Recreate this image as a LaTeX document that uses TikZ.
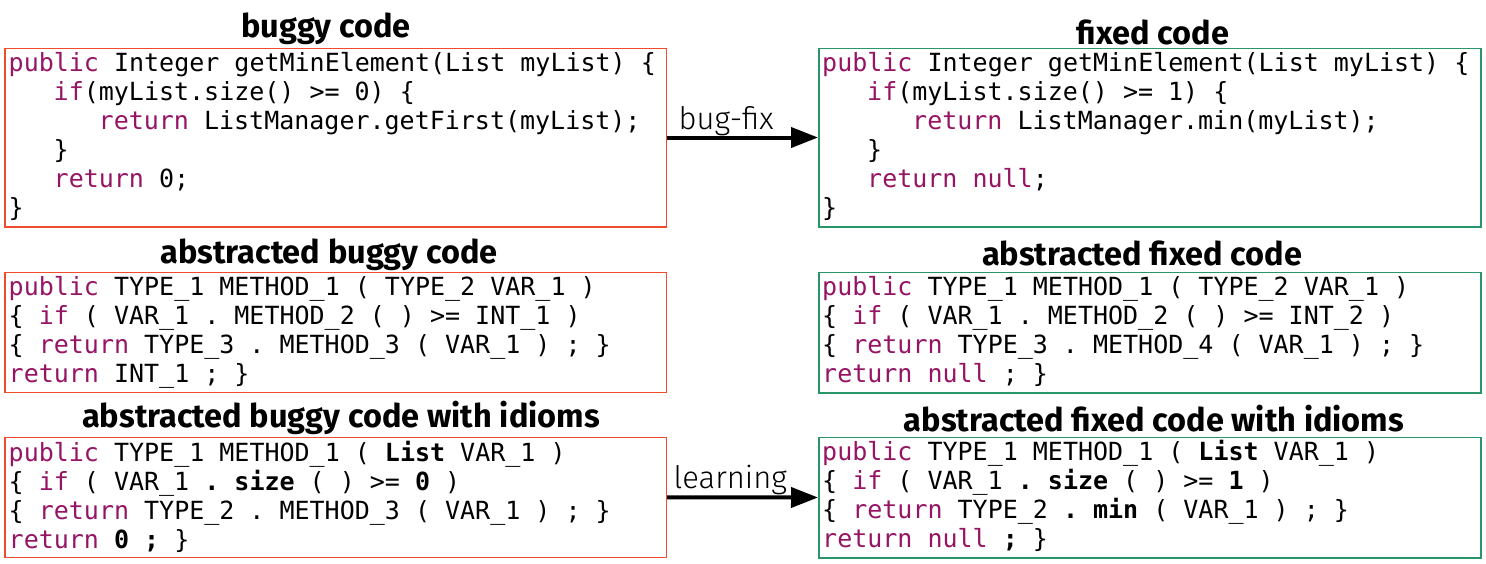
\documentclass[tikz,border=0pt]{standalone}
\usepackage{fontspec}
\setmainfont{Fira Sans}
\setmonofont{DejaVu Sans Mono}
\newfontfamily\titlefont{Fira Sans}[UprightFont={* Bold}]
\newfontfamily\lightfont{Fira Sans Light}
\usetikzlibrary{arrows.meta,calc}
\definecolor{kwc}{RGB}{150,20,100}
\definecolor{bugred}{RGB}{240,75,45}
\definecolor{fixgreen}{RGB}{40,150,105}
\newcommand\cs{\rule[-8pt]{0pt}{29pt}}
\newcommand\cset{\frenchspacing\spaceskip=15.05pt\relax\xspaceskip=15.05pt\relax}
\newcommand\kw[1]{\textcolor{kwc}{#1}}
\newcommand\bd[1]{\textbf{#1}}
\newcommand\ind[1]{\hspace*{#1pt}}
\begin{document}
\begin{tikzpicture}[x=1pt,y=-1pt,
  codebox/.style={draw,line width=1.5pt,inner sep=0pt,anchor=north west},
  bugbox/.style={codebox,draw=bugred},
  fixbox/.style={codebox,draw=fixgreen},
  codetext/.style={anchor=north west,inner sep=0pt,text width=655pt,align=left,
    font={\fontsize{25}{29}\ttfamily}},
  ttl/.style={anchor=base,inner sep=0pt,font=\titlefont\fontsize{32.5}{36}\selectfont},
  lbl/.style={anchor=base west,inner sep=0pt,font=\lightfont\fontsize{31}{36}\selectfont},
  flow/.style={line width=4pt,-{Triangle[length=27pt,width=20pt]}}]
\useasboundingbox (0,0) rectangle (1486,563);
% boxes
\node[bugbox,minimum width=661.5pt,minimum height=178.5pt] (b1) at (4,47.5) {};
\node[fixbox,minimum width=662pt,minimum height=178.5pt] (f1) at (818,47.5) {};
\node[bugbox,minimum width=661.5pt,minimum height=120pt] (b2) at (4,271.5) {};
\node[fixbox,minimum width=662pt,minimum height=120.5pt] (f2) at (818,271.5) {};
\node[bugbox,minimum width=661.5pt,minimum height=120pt] (b3) at (4,436.5) {};
\node[fixbox,minimum width=662pt,minimum height=120.5pt] (f3) at (818,436.5) {};
% titles
\node[ttl] (tb1) at (326,37) {buggy code};
\node[ttl] (tf1) at (1153,44) {fixed code};
\node[ttl] (tb2) at (329,263.5) {abstracted buggy code};
\node[ttl] (tf2) at (1142,265) {abstracted fixed code};
\node[ttl] (tb3) at (341,427.5) {abstracted buggy code with idioms};
\node[ttl] (tf3) at (1154,431.5) {abstracted fixed code with idioms};
% code
\node[codetext] (cb1) at ($(b1.north west)+(4.5,2.5)$) {\cset
\cs\kw{public} Integer getMinElement(List myList) \{\\
\cs\ind{45}\kw{if}(myList.size() >= 0) \{\\
\cs\ind{90}\kw{return} ListManager.getFirst(myList);\\
\cs\ind{45}\}\\
\cs\ind{45}\kw{return} 0;\\
\cs\}};
\node[codetext] (cf1) at ($(f1.north west)+(4,2.5)$) {\cset
\cs\kw{public} Integer getMinElement(List myList) \{\\
\cs\ind{45}\kw{if}(myList.size() >= 1) \{\\
\cs\ind{90}\kw{return} ListManager.min(myList);\\
\cs\ind{45}\}\\
\cs\ind{45}\kw{return} \kw{null};\\
\cs\}};
\node[codetext] (cb2) at ($(b2.north west)+(4.5,3)$) {\cset
\cs\kw{public} TYPE\_1 METHOD\_1 ( TYPE\_2 VAR\_1 )\\
\cs\{ \kw{if} ( VAR\_1 . METHOD\_2 ( ) >= INT\_1 )\\
\cs\{ \kw{return} TYPE\_3 . METHOD\_3 ( VAR\_1 ) ; \}\\
\cs\kw{return} INT\_1 ; \}};
\node[codetext] (cf2) at ($(f2.north west)+(4,3)$) {\cset
\cs\kw{public} TYPE\_1 METHOD\_1 ( TYPE\_2 VAR\_1 )\\
\cs\{ \kw{if} ( VAR\_1 . METHOD\_2 ( ) >= INT\_2 )\\
\cs\{ \kw{return} TYPE\_3 . METHOD\_4 ( VAR\_1 ) ; \}\\
\cs\kw{return} \kw{null} ; \}};
\node[codetext] (cb3) at ($(b3.north west)+(4.5,3.5)$) {\cset
\cs\kw{public} TYPE\_1 METHOD\_1 ( \bd{List} VAR\_1 )\\
\cs\{ \kw{if} ( VAR\_1 \bd{.} \bd{size} ( ) >= \bd{0} )\\
\cs\{ \kw{return} TYPE\_2 . METHOD\_3 ( VAR\_1 ) ; \}\\
\cs\kw{return} \bd{0} \bd{;} \}};
\node[codetext] (cf3) at ($(f3.north west)+(4,3)$) {\cset
\cs\kw{public} TYPE\_1 METHOD\_1 ( \bd{List} VAR\_1 )\\
\cs\{ \kw{if} ( VAR\_1 \bd{.} \bd{size} ( ) >= \bd{1} )\\
\cs\{ \kw{return} TYPE\_2 \bd{.} \bd{min} ( VAR\_1 ) ; \}\\
\cs\kw{return} \kw{null} \bd{;} \}};
% arrows
\draw[flow] (b1.east) -- (f1.west);
\draw[flow] (b3.east) -- (f3.west);
\node[lbl] (l1) at ($(b1.east)+(11.5,-8.5)$) {bug-fix};
\node[lbl] (l2) at ($(b3.east)+(6.5,-8.5)$) {learning};
\end{tikzpicture}
\end{document}
